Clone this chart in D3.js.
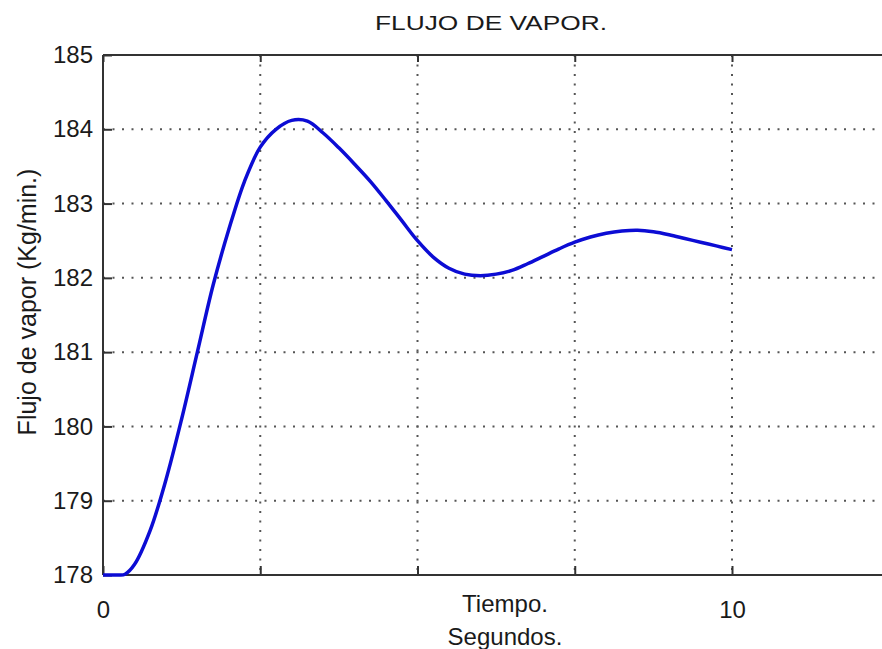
<!DOCTYPE html>
<html>
  <head>
    <meta charset="UTF-8">
    <title>Flujo de vapor</title>
    <script src="https://cdn.jsdelivr.net/npm/d3@7"></script>
    <style>
      body, html { margin:0; padding:0; background:#fff; }
      svg text { font-family: "Liberation Sans", Arial, sans-serif; fill:#1a1a1a; }
      .axis path, .axis line { stroke:#333; }
      .grid line { stroke:#555; stroke-dasharray:2,7.5; stroke-width:2; }
    </style>
  </head>
  <body>
  <div id="chart"></div>
<script type="text/javascript">

// time (s) and steam flow (Kg/min.)
var tiempo = [0, 0.25, 0.35, 0.5, 0.75, 1.0, 1.25, 1.5, 1.75, 2.0, 2.25, 2.5, 2.75, 3.0, 3.25,
              3.5, 3.75, 4.0, 4.25, 4.5, 4.75, 5.0, 5.25, 5.5, 5.75, 6.0, 6.25, 6.5, 6.75,
              7.0, 7.25, 7.5, 7.75, 8.0, 8.25, 8.5, 8.75, 9.0, 9.25, 9.5, 9.75, 10.0];
var flujo  = [178.0, 178.0, 178.01, 178.14, 178.6, 179.28, 180.1, 181.0, 181.9, 182.65, 183.3, 183.76, 184.0, 184.12, 184.11,
              183.95, 183.75, 183.53, 183.3, 183.04, 182.77, 182.5, 182.28, 182.13, 182.05, 182.03, 182.05, 182.1, 182.19,
              182.29, 182.39, 182.48, 182.55, 182.6, 182.63, 182.64, 182.62, 182.58, 182.53, 182.48, 182.43, 182.38];

var xTicks = [0, 2.5, 5, 7.5, 10, 12.5];
var xTickLabels = ["0", "", "", "", "10", ""];
var yTicks = [178, 179, 180, 181, 182, 183, 184, 185];

var W = 882, H = 649;
var mLeft = 103, mRight = 732, mTop = 55, mBottom = 575;

var x = d3.scaleLinear().domain([0, 10]).range([mLeft, mRight]);
var y = d3.scaleLinear().domain([178, 185]).range([mBottom, mTop]);

var svg = d3.select('#chart').append('svg').attr('width', W).attr('height', H);

// dotted grid
var grid = svg.append('g').attr('class', 'grid');
grid.selectAll('line.v').data(xTicks.filter(function(d){ return d > 0; }))
  .enter().append('line').attr('class', 'v')
  .attr('x1', function(d){ return x(d); }).attr('x2', function(d){ return x(d); })
  .attr('y1', mTop).attr('y2', mBottom);
grid.selectAll('line.h').data(yTicks.filter(function(d){ return d > 178 && d < 185; }))
  .enter().append('line').attr('class', 'h')
  .attr('y1', function(d){ return y(d); }).attr('y2', function(d){ return y(d); })
  .attr('x1', mLeft).attr('x2', W);

// axes
var xAxis = d3.axisBottom(x).tickValues(xTicks).tickSize(-9).tickPadding(17)
  .tickFormat(function(d, i){ return xTickLabels[i]; });
var gx = svg.append('g').attr('class', 'axis').attr('transform', 'translate(0,' + mBottom + ')').call(xAxis);
gx.select('.domain').remove();
gx.selectAll('line').attr('stroke-width', 2);
gx.selectAll('text').style('font-size', '24px').attr('y', 26).attr('dy', '0.71em');

var xTop = d3.axisTop(x).tickValues(xTicks).tickSize(-7).tickFormat('');
var gt = svg.append('g').attr('class', 'axis').attr('transform', 'translate(0,' + mTop + ')').call(xTop);
gt.select('.domain').remove();
gt.selectAll('line').attr('stroke-width', 2);

var yAxis = d3.axisLeft(y).tickValues(yTicks).tickSize(-9).tickPadding(10).tickFormat(d3.format('d'));
var gy = svg.append('g').attr('class', 'axis').attr('transform', 'translate(' + mLeft + ',0)').call(yAxis);
gy.select('.domain').remove();
gy.selectAll('line').attr('stroke-width', 2);
gy.selectAll('text').style('font-size', '24px');

// frame: left, bottom, top (right side is cut off)
svg.append('line').attr('x1', mLeft).attr('x2', W).attr('y1', mBottom).attr('y2', mBottom)
  .attr('stroke', '#333').attr('stroke-width', 2);
svg.append('line').attr('x1', mLeft).attr('x2', W).attr('y1', mTop).attr('y2', mTop)
  .attr('stroke', '#333').attr('stroke-width', 2);
svg.append('line').attr('x1', mLeft).attr('x2', mLeft).attr('y1', mTop).attr('y2', mBottom)
  .attr('stroke', '#333').attr('stroke-width', 2);

// curve
var line = d3.line()
  .x(function(d, i){ return x(tiempo[i]); })
  .y(function(d){ return y(d); })
  .curve(d3.curveCatmullRom.alpha(0.5));
svg.append('path').datum(flujo)
  .attr('d', line)
  .attr('fill', 'none')
  .attr('stroke', '#0c0cd4')
  .attr('stroke-width', 3.5);

// labels
svg.append('text').attr('x', 491).attr('y', 30).attr('text-anchor', 'middle')
  .style('font-size', '21px').attr('textLength', 232).attr('lengthAdjust', 'spacingAndGlyphs')
  .text('FLUJO DE VAPOR.');
svg.append('text').attr('x', 505).attr('y', 612).attr('text-anchor', 'middle')
  .style('font-size', '24px').text('Tiempo.');
svg.append('text').attr('x', 505).attr('y', 645).attr('text-anchor', 'middle')
  .style('font-size', '24px').text('Segundos.');
svg.append('text').attr('transform', 'translate(36,302) rotate(-90)').attr('text-anchor', 'middle')
  .style('font-size', '25px').text('Flujo de vapor (Kg/min.)');

</script>
  </body>
</html>
